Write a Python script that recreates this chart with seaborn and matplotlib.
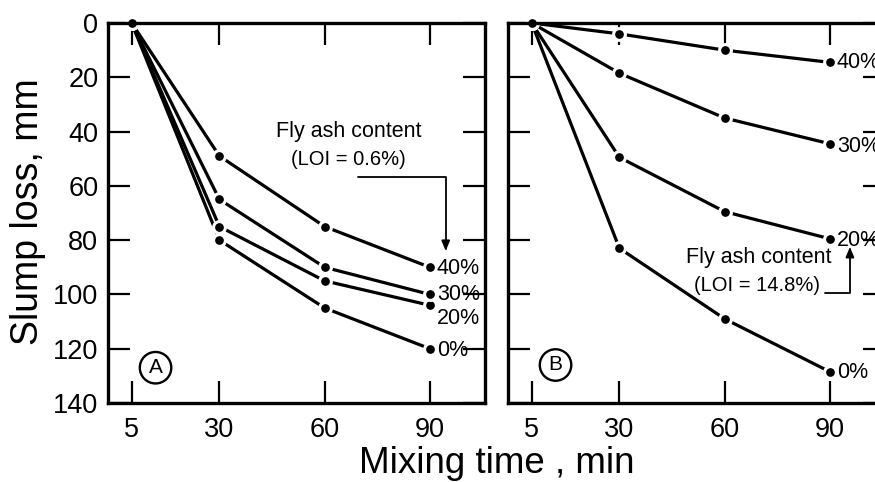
import pandas as pd
import matplotlib
matplotlib.use("Agg")
import matplotlib.pyplot as plt
import seaborn as sns

# mixing time (min) and slump loss (mm)
mixing_time = [5, 30, 60, 90]
fly_ash = ["0%", "20%", "30%", "40%"]

# panel A: LOI = 0.6%
loss_a_0 = [0, 80, 105, 120]
loss_a_20 = [0, 75, 95, 104]
loss_a_30 = [0, 65, 90, 100]
loss_a_40 = [0, 49, 75, 90]

# panel B: LOI = 14.8%
loss_b_0 = [0, 83, 109, 128.5]
loss_b_20 = [0, 49.5, 69.5, 79.5]
loss_b_30 = [0, 18.5, 35, 44.5]
loss_b_40 = [0, 4, 10, 14.5]

yticks = [0, 20, 40, 60, 80, 100, 120, 140]

sns.set_style("ticks")
plt.rcParams["font.family"] = ["Liberation Sans", "DejaVu Sans"]
plt.rcParams["text.color"] = "black"
plt.rcParams["axes.labelcolor"] = "black"
plt.rcParams["xtick.color"] = "black"
plt.rcParams["ytick.color"] = "black"

fig = plt.figure(figsize=(8.75, 4.82), dpi=100)
W, H = 875, 482
ax_a = fig.add_axes([108 / W, (H - 403) / H, 377 / W, 380 / H])
ax_b = fig.add_axes([508 / W, (H - 403) / H, 377 / W, 380 / H])

arrow_style = dict(arrowstyle="-|>,head_length=0.6,head_width=0.25",
                   connectionstyle="angle,angleA=0,angleB=90,rad=0",
                   color="black", lw=1.3, shrinkA=0, shrinkB=0)


def draw_panel(ax, series, label_y):
    for name, vals in zip(fly_ash, series):
        df = pd.DataFrame({"time": mixing_time, "loss": vals})
        sns.lineplot(data=df, x="time", y="loss", ax=ax, color="black",
                     linewidth=2.3, marker="o", markersize=8.5,
                     markerfacecolor="black", markeredgecolor="white",
                     markeredgewidth=2.2, clip_on=False)
        ax.text(92, label_y[name], name, fontsize=15.5, va="center",
                ha="left", clip_on=False)
    ax.set_xlim(-1.75, 105.7)
    ax.set_ylim(140, 0)
    ax.set_xticks(mixing_time)
    ax.set_yticks(yticks)
    ax.set_xlabel("")
    ax.set_ylabel("")
    ax.tick_params(direction="in", length=16, width=1.6, top=True,
                   right=True, labelsize=19.5, pad=7)
    ax.tick_params(axis="x", pad=10)
    for sp in ax.spines.values():
        sp.set_linewidth(2.4)
        sp.set_color("black")


draw_panel(ax_a, [loss_a_0, loss_a_20, loss_a_30, loss_a_40],
           {"0%": 120.5, "20%": 108.7, "30%": 100.2, "40%": 90.3})
draw_panel(ax_b, [loss_b_0, loss_b_20, loss_b_30, loss_b_40],
           {"0%": 128.8, "20%": 80, "30%": 45.6, "40%": 14.5})
ax_b.set_yticklabels([])

# annotations panel A
ax_a.text(66.9, 42, "Fly ash content", fontsize=15.5, ha="center",
          va="baseline")
ax_a.text(66.8, 52.3, "(LOI = 0.6%)", fontsize=14.5, ha="center",
          va="baseline")
ax_a.annotate("", xy=(94.5, 84), xytext=(69.5, 56.7), arrowprops=arrow_style)
ax_a.text(11.8, 127, "A", fontsize=15, ha="center", va="center",
          bbox=dict(boxstyle="circle,pad=0.3", fc="none", ec="black", lw=1.7))

# annotations panel B
ax_b.text(69.6, 88.4, "Fly ash content", fontsize=15.5, ha="center",
          va="baseline")
ax_b.text(69.2, 98.6, "(LOI = 14.8%)", fontsize=14.5, ha="center",
          va="baseline")
ax_b.annotate("", xy=(95.7, 82.5), xytext=(88.6, 99.5), arrowprops=arrow_style)
ax_b.text(11.8, 126, "B", fontsize=15, ha="center", va="center",
          bbox=dict(boxstyle="circle,pad=0.3", fc="none", ec="black", lw=1.7))

fig.text(28 / W, 1 - 212 / H, "Slump loss, mm", fontsize=27, rotation=90,
         ha="center", va="center")
fig.text(497 / W, 9 / H, "Mixing time , min", fontsize=26.5, ha="center",
         va="baseline")

fig.savefig("out.png", dpi=100)
